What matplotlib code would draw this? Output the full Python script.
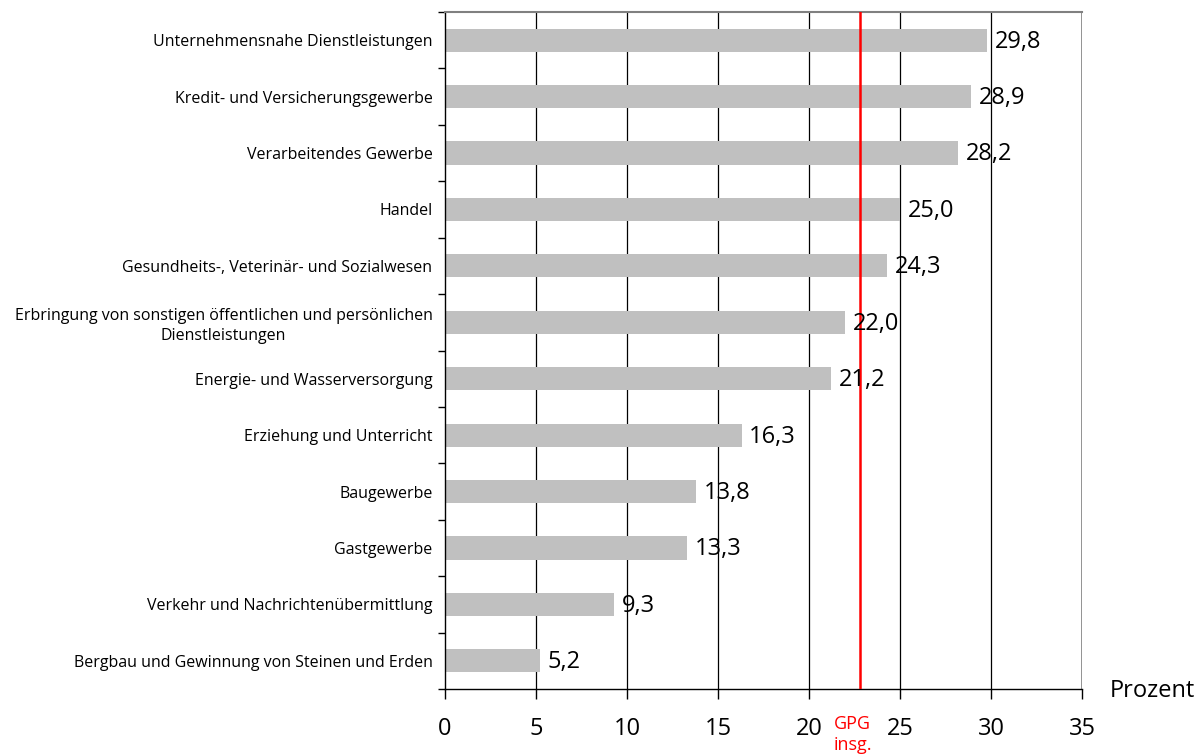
import matplotlib
matplotlib.use("Agg")
import matplotlib.pyplot as plt
import numpy as np

plt.rcParams['font.family'] = ['Open Sans', 'DejaVu Sans']

categories = [
    "Unternehmensnahe Dienstleistungen",
    "Kredit- und Versicherungsgewerbe",
    "Verarbeitendes Gewerbe",
    "Handel",
    "Gesundheits-, Veterinär- und Sozialwesen",
    "Erbringung von sonstigen öffentlichen und persönlichen\nDienstleistungen",
    "Energie- und Wasserversorgung",
    "Erziehung und Unterricht",
    "Baugewerbe",
    "Gastgewerbe",
    "Verkehr und Nachrichtenübermittlung",
    "Bergbau und Gewinnung von Steinen und Erden",
]
values = [29.8, 28.9, 28.2, 25.0, 24.3, 22.0, 21.2, 16.3, 13.8, 13.3, 9.3, 5.2]
value_labels = ["29,8", "28,9", "28,2", "25,0", "24,3", "22,0", "21,2", "16,3", "13,8", "13,3", "9,3", "5,2"]
gpg_total = 22.8
xticks = [0, 5, 10, 15, 20, 25, 30, 35]

fig = plt.figure(figsize=(12.03, 7.55), dpi=100)
ax = fig.add_axes([445/1203, 1 - 689/755, 637/1203, 677/755])

n = len(categories)
y = np.arange(n)[::-1]
ax.barh(y, values, height=0.41, color='#c0c0c0', zorder=2)

ax.set_xlim(0, 35)
ax.set_ylim(-0.5, n - 0.5)

for xv in xticks[1:-1]:
    ax.axvline(xv, color='black', lw=0.9, zorder=1)
ax.axvline(35, color='#808080', lw=1.2, zorder=1)

ax.axvline(gpg_total, color='red', lw=1.8, zorder=3)

for yi, v, lab in zip(y, values, value_labels):
    ax.annotate(lab, (v, yi), xytext=(5.5, -1), textcoords='offset points',
                va='center', ha='left', fontsize=17, zorder=4)

ax.set_xticks(xticks)
ax.set_xticklabels([str(t) for t in xticks], fontsize=17)
ax.tick_params(axis='x', direction='out', length=7, width=1, pad=13)

ax.set_yticks(y)
ax.set_yticklabels(categories, fontsize=11.5, ha='right', multialignment='center',
                   linespacing=1.3)
ax.tick_params(axis='y', length=0, pad=9)
ax.set_yticks(np.arange(-0.5, n, 1.0), minor=True)
ax.tick_params(axis='y', which='minor', direction='out', length=5, width=1)

for s in ['left', 'bottom']:
    ax.spines[s].set_color('black')
    ax.spines[s].set_linewidth(1)
ax.spines['top'].set_color('#808080')
ax.spines['top'].set_linewidth(1.5)
ax.spines['right'].set_visible(False)

ax.text(1.044, -0.003, "Prozent", transform=ax.transAxes, fontsize=17,
        ha='left', va='center')
ax.text(gpg_total - 0.4, -0.039, "GPG\ninsg.", transform=ax.get_xaxis_transform(),
        color='red', fontsize=13, ha='center', va='top', linespacing=1.15)

fig.savefig("out.png", dpi=100)
